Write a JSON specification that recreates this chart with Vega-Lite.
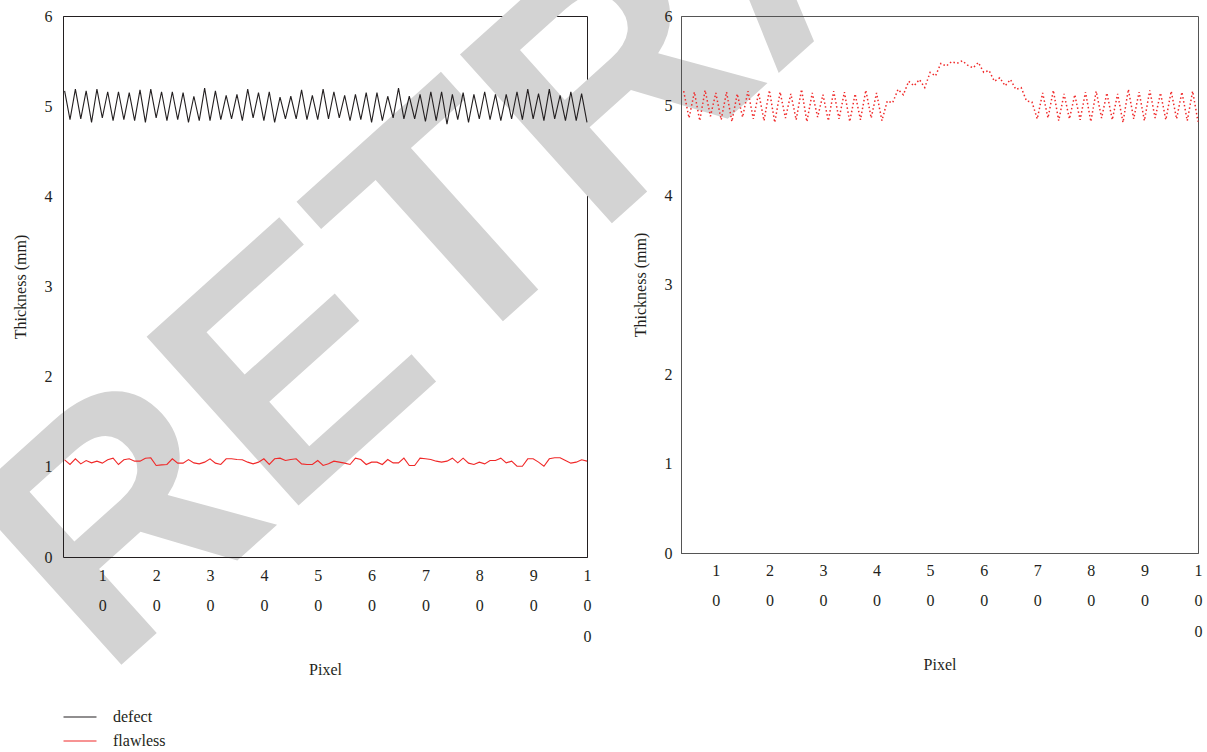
{
  "$schema": "https://vega.github.io/schema/vega-lite/v6.json",
  "autosize": {"type": "none"},
  "bounds": "flush",
  "padding": {"left": 63, "top": 16, "right": 1144, "bottom": 736},
  "spacing": 94,
  "background": "white",
  "config": {
    "font": "Liberation Serif",
    "axis": {
      "labelFont": "Liberation Serif", "titleFont": "Liberation Serif",
      "labelFontSize": 16, "titleFontSize": 16, "titleFontWeight": "normal",
      "labelColor": "#231f20", "titleColor": "#231f20",
      "grid": false, "ticks": false, "zindex": 1
    },
    "legend": {"labelFont": "Liberation Serif", "labelFontSize": 16, "labelColor": "#231f20"}
  },
  "datasets": {
    "left": [
      {"pixel":3,"thickness":5.17,"series":"defect"},{"pixel":4,"thickness":4.85,"series":"defect"},
      {"pixel":5,"thickness":5.19,"series":"defect"},{"pixel":6,"thickness":4.86,"series":"defect"},
      {"pixel":7,"thickness":5.17,"series":"defect"},{"pixel":8,"thickness":4.82,"series":"defect"},
      {"pixel":9,"thickness":5.19,"series":"defect"},{"pixel":10,"thickness":4.87,"series":"defect"},
      {"pixel":11,"thickness":5.16,"series":"defect"},{"pixel":12,"thickness":4.84,"series":"defect"},
      {"pixel":13,"thickness":5.16,"series":"defect"},{"pixel":14,"thickness":4.85,"series":"defect"},
      {"pixel":15,"thickness":5.15,"series":"defect"},{"pixel":16,"thickness":4.84,"series":"defect"},
      {"pixel":17,"thickness":5.18,"series":"defect"},{"pixel":18,"thickness":4.82,"series":"defect"},
      {"pixel":19,"thickness":5.19,"series":"defect"},{"pixel":20,"thickness":4.87,"series":"defect"},
      {"pixel":21,"thickness":5.16,"series":"defect"},{"pixel":22,"thickness":4.84,"series":"defect"},
      {"pixel":23,"thickness":5.16,"series":"defect"},{"pixel":24,"thickness":4.85,"series":"defect"},
      {"pixel":25,"thickness":5.15,"series":"defect"},{"pixel":26,"thickness":4.82,"series":"defect"},
      {"pixel":27,"thickness":5.11,"series":"defect"},{"pixel":28,"thickness":4.84,"series":"defect"},
      {"pixel":29,"thickness":5.20,"series":"defect"},{"pixel":30,"thickness":4.84,"series":"defect"},
      {"pixel":31,"thickness":5.17,"series":"defect"},{"pixel":32,"thickness":4.85,"series":"defect"},
      {"pixel":33,"thickness":5.12,"series":"defect"},{"pixel":34,"thickness":4.86,"series":"defect"},
      {"pixel":35,"thickness":5.13,"series":"defect"},{"pixel":36,"thickness":4.84,"series":"defect"},
      {"pixel":37,"thickness":5.19,"series":"defect"},{"pixel":38,"thickness":4.87,"series":"defect"},
      {"pixel":39,"thickness":5.15,"series":"defect"},{"pixel":40,"thickness":4.84,"series":"defect"},
      {"pixel":41,"thickness":5.16,"series":"defect"},{"pixel":42,"thickness":4.82,"series":"defect"},
      {"pixel":43,"thickness":5.10,"series":"defect"},{"pixel":44,"thickness":4.86,"series":"defect"},
      {"pixel":45,"thickness":5.11,"series":"defect"},{"pixel":46,"thickness":4.86,"series":"defect"},
      {"pixel":47,"thickness":5.18,"series":"defect"},{"pixel":48,"thickness":4.85,"series":"defect"},
      {"pixel":49,"thickness":5.12,"series":"defect"},{"pixel":50,"thickness":4.85,"series":"defect"},
      {"pixel":51,"thickness":5.19,"series":"defect"},{"pixel":52,"thickness":4.86,"series":"defect"},
      {"pixel":53,"thickness":5.16,"series":"defect"},{"pixel":54,"thickness":4.87,"series":"defect"},
      {"pixel":55,"thickness":5.12,"series":"defect"},{"pixel":56,"thickness":4.84,"series":"defect"},
      {"pixel":57,"thickness":5.13,"series":"defect"},{"pixel":58,"thickness":4.85,"series":"defect"},
      {"pixel":59,"thickness":5.15,"series":"defect"},{"pixel":60,"thickness":4.82,"series":"defect"},
      {"pixel":61,"thickness":5.15,"series":"defect"},{"pixel":62,"thickness":4.84,"series":"defect"},
      {"pixel":63,"thickness":5.11,"series":"defect"},{"pixel":64,"thickness":4.87,"series":"defect"},
      {"pixel":65,"thickness":5.20,"series":"defect"},{"pixel":66,"thickness":4.86,"series":"defect"},
      {"pixel":67,"thickness":5.11,"series":"defect"},{"pixel":68,"thickness":4.86,"series":"defect"},
      {"pixel":69,"thickness":5.13,"series":"defect"},{"pixel":70,"thickness":4.83,"series":"defect"},
      {"pixel":71,"thickness":5.16,"series":"defect"},{"pixel":72,"thickness":4.84,"series":"defect"},
      {"pixel":73,"thickness":5.16,"series":"defect"},{"pixel":74,"thickness":4.80,"series":"defect"},
      {"pixel":75,"thickness":5.13,"series":"defect"},{"pixel":76,"thickness":4.85,"series":"defect"},
      {"pixel":77,"thickness":5.15,"series":"defect"},{"pixel":78,"thickness":4.82,"series":"defect"},
      {"pixel":79,"thickness":5.13,"series":"defect"},{"pixel":80,"thickness":4.86,"series":"defect"},
      {"pixel":81,"thickness":5.16,"series":"defect"},{"pixel":82,"thickness":4.85,"series":"defect"},
      {"pixel":83,"thickness":5.13,"series":"defect"},{"pixel":84,"thickness":4.84,"series":"defect"},
      {"pixel":85,"thickness":5.13,"series":"defect"},{"pixel":86,"thickness":4.86,"series":"defect"},
      {"pixel":87,"thickness":5.16,"series":"defect"},{"pixel":88,"thickness":4.85,"series":"defect"},
      {"pixel":89,"thickness":5.19,"series":"defect"},{"pixel":90,"thickness":4.86,"series":"defect"},
      {"pixel":91,"thickness":5.14,"series":"defect"},{"pixel":92,"thickness":4.84,"series":"defect"},
      {"pixel":93,"thickness":5.19,"series":"defect"},{"pixel":94,"thickness":4.86,"series":"defect"},
      {"pixel":95,"thickness":5.12,"series":"defect"},{"pixel":96,"thickness":4.84,"series":"defect"},
      {"pixel":97,"thickness":5.16,"series":"defect"},{"pixel":98,"thickness":4.84,"series":"defect"},
      {"pixel":99,"thickness":5.14,"series":"defect"},{"pixel":100,"thickness":4.82,"series":"defect"},
      {"pixel":3,"thickness":1.078,"series":"flawless"},{"pixel":4,"thickness":1.026,"series":"flawless"},
      {"pixel":5,"thickness":1.089,"series":"flawless"},{"pixel":6,"thickness":1.033,"series":"flawless"},
      {"pixel":7,"thickness":1.070,"series":"flawless"},{"pixel":8,"thickness":1.044,"series":"flawless"},
      {"pixel":9,"thickness":1.063,"series":"flawless"},{"pixel":10,"thickness":1.041,"series":"flawless"},
      {"pixel":11,"thickness":1.078,"series":"flawless"},{"pixel":12,"thickness":1.096,"series":"flawless"},
      {"pixel":13,"thickness":1.026,"series":"flawless"},{"pixel":14,"thickness":1.078,"series":"flawless"},
      {"pixel":15,"thickness":1.089,"series":"flawless"},{"pixel":16,"thickness":1.063,"series":"flawless"},
      {"pixel":17,"thickness":1.063,"series":"flawless"},{"pixel":18,"thickness":1.096,"series":"flawless"},
      {"pixel":19,"thickness":1.100,"series":"flawless"},{"pixel":20,"thickness":1.015,"series":"flawless"},
      {"pixel":21,"thickness":1.022,"series":"flawless"},{"pixel":22,"thickness":1.026,"series":"flawless"},
      {"pixel":23,"thickness":1.089,"series":"flawless"},{"pixel":24,"thickness":1.041,"series":"flawless"},
      {"pixel":25,"thickness":1.041,"series":"flawless"},{"pixel":26,"thickness":1.081,"series":"flawless"},
      {"pixel":27,"thickness":1.044,"series":"flawless"},{"pixel":28,"thickness":1.033,"series":"flawless"},
      {"pixel":29,"thickness":1.052,"series":"flawless"},{"pixel":30,"thickness":1.089,"series":"flawless"},
      {"pixel":31,"thickness":1.041,"series":"flawless"},{"pixel":32,"thickness":1.026,"series":"flawless"},
      {"pixel":33,"thickness":1.089,"series":"flawless"},{"pixel":34,"thickness":1.089,"series":"flawless"},
      {"pixel":35,"thickness":1.081,"series":"flawless"},{"pixel":36,"thickness":1.078,"series":"flawless"},
      {"pixel":37,"thickness":1.052,"series":"flawless"},{"pixel":38,"thickness":1.033,"series":"flawless"},
      {"pixel":39,"thickness":1.052,"series":"flawless"},{"pixel":40,"thickness":1.089,"series":"flawless"},
      {"pixel":41,"thickness":1.026,"series":"flawless"},{"pixel":42,"thickness":1.089,"series":"flawless"},
      {"pixel":43,"thickness":1.096,"series":"flawless"},{"pixel":44,"thickness":1.070,"series":"flawless"},
      {"pixel":45,"thickness":1.081,"series":"flawless"},{"pixel":46,"thickness":1.089,"series":"flawless"},
      {"pixel":47,"thickness":1.033,"series":"flawless"},{"pixel":48,"thickness":1.026,"series":"flawless"},
      {"pixel":49,"thickness":1.026,"series":"flawless"},{"pixel":50,"thickness":1.070,"series":"flawless"},
      {"pixel":51,"thickness":1.015,"series":"flawless"},{"pixel":52,"thickness":1.033,"series":"flawless"},
      {"pixel":53,"thickness":1.063,"series":"flawless"},{"pixel":54,"thickness":1.052,"series":"flawless"},
      {"pixel":55,"thickness":1.041,"series":"flawless"},{"pixel":56,"thickness":1.026,"series":"flawless"},
      {"pixel":57,"thickness":1.096,"series":"flawless"},{"pixel":58,"thickness":1.081,"series":"flawless"},
      {"pixel":59,"thickness":1.026,"series":"flawless"},{"pixel":60,"thickness":1.052,"series":"flawless"},
      {"pixel":61,"thickness":1.052,"series":"flawless"},{"pixel":62,"thickness":1.026,"series":"flawless"},
      {"pixel":63,"thickness":1.081,"series":"flawless"},{"pixel":64,"thickness":1.044,"series":"flawless"},
      {"pixel":65,"thickness":1.044,"series":"flawless"},{"pixel":66,"thickness":1.096,"series":"flawless"},
      {"pixel":67,"thickness":1.015,"series":"flawless"},{"pixel":68,"thickness":1.015,"series":"flawless"},
      {"pixel":69,"thickness":1.096,"series":"flawless"},{"pixel":70,"thickness":1.089,"series":"flawless"},
      {"pixel":71,"thickness":1.081,"series":"flawless"},{"pixel":72,"thickness":1.063,"series":"flawless"},
      {"pixel":73,"thickness":1.052,"series":"flawless"},{"pixel":74,"thickness":1.063,"series":"flawless"},
      {"pixel":75,"thickness":1.096,"series":"flawless"},{"pixel":76,"thickness":1.044,"series":"flawless"},
      {"pixel":77,"thickness":1.096,"series":"flawless"},{"pixel":78,"thickness":1.041,"series":"flawless"},
      {"pixel":79,"thickness":1.026,"series":"flawless"},{"pixel":80,"thickness":1.052,"series":"flawless"},
      {"pixel":81,"thickness":1.033,"series":"flawless"},{"pixel":82,"thickness":1.070,"series":"flawless"},
      {"pixel":83,"thickness":1.070,"series":"flawless"},{"pixel":84,"thickness":1.096,"series":"flawless"},
      {"pixel":85,"thickness":1.044,"series":"flawless"},{"pixel":86,"thickness":1.063,"series":"flawless"},
      {"pixel":87,"thickness":1.007,"series":"flawless"},{"pixel":88,"thickness":1.007,"series":"flawless"},
      {"pixel":89,"thickness":1.089,"series":"flawless"},{"pixel":90,"thickness":1.089,"series":"flawless"},
      {"pixel":91,"thickness":1.052,"series":"flawless"},{"pixel":92,"thickness":1.007,"series":"flawless"},
      {"pixel":93,"thickness":1.089,"series":"flawless"},{"pixel":94,"thickness":1.100,"series":"flawless"},
      {"pixel":95,"thickness":1.100,"series":"flawless"},{"pixel":96,"thickness":1.070,"series":"flawless"},
      {"pixel":97,"thickness":1.041,"series":"flawless"},{"pixel":98,"thickness":1.052,"series":"flawless"},
      {"pixel":99,"thickness":1.078,"series":"flawless"},{"pixel":100,"thickness":1.063,"series":"flawless"}
    ],
    "right": [
      {"pixel":4,"thickness":5.16},{"pixel":5,"thickness":4.86},{"pixel":6,"thickness":5.15},{"pixel":7,"thickness":4.83},
      {"pixel":8,"thickness":5.17},{"pixel":9,"thickness":4.88},{"pixel":10,"thickness":5.14},{"pixel":11,"thickness":4.84},
      {"pixel":12,"thickness":5.15},{"pixel":13,"thickness":4.82},{"pixel":14,"thickness":5.13},{"pixel":15,"thickness":4.87},
      {"pixel":16,"thickness":5.16},{"pixel":17,"thickness":4.85},{"pixel":18,"thickness":5.14},{"pixel":19,"thickness":4.83},
      {"pixel":20,"thickness":5.17},{"pixel":21,"thickness":4.81},{"pixel":22,"thickness":5.15},{"pixel":23,"thickness":4.86},
      {"pixel":24,"thickness":5.13},{"pixel":25,"thickness":4.84},{"pixel":26,"thickness":5.18},{"pixel":27,"thickness":4.82},
      {"pixel":28,"thickness":5.14},{"pixel":29,"thickness":4.87},{"pixel":30,"thickness":5.12},{"pixel":31,"thickness":4.83},
      {"pixel":32,"thickness":5.16},{"pixel":33,"thickness":4.85},{"pixel":34,"thickness":5.15},{"pixel":35,"thickness":4.82},
      {"pixel":36,"thickness":5.13},{"pixel":37,"thickness":4.84},{"pixel":38,"thickness":5.17},{"pixel":39,"thickness":4.86},
      {"pixel":40,"thickness":5.14},{"pixel":41,"thickness":4.83},{"pixel":42,"thickness":5.05},{"pixel":43,"thickness":5.03},
      {"pixel":44,"thickness":5.18},{"pixel":45,"thickness":5.12},{"pixel":46,"thickness":5.27},{"pixel":47,"thickness":5.22},
      {"pixel":48,"thickness":5.29},{"pixel":49,"thickness":5.20},{"pixel":50,"thickness":5.37},{"pixel":51,"thickness":5.33},
      {"pixel":52,"thickness":5.47},{"pixel":53,"thickness":5.44},{"pixel":54,"thickness":5.49},{"pixel":55,"thickness":5.47},
      {"pixel":56,"thickness":5.50},{"pixel":57,"thickness":5.45},{"pixel":58,"thickness":5.42},{"pixel":59,"thickness":5.48},
      {"pixel":60,"thickness":5.37},{"pixel":61,"thickness":5.39},{"pixel":62,"thickness":5.27},{"pixel":63,"thickness":5.31},
      {"pixel":64,"thickness":5.22},{"pixel":65,"thickness":5.29},{"pixel":66,"thickness":5.18},{"pixel":67,"thickness":5.20},
      {"pixel":68,"thickness":5.05},{"pixel":69,"thickness":5.04},{"pixel":70,"thickness":4.85},{"pixel":71,"thickness":5.14},
      {"pixel":72,"thickness":4.86},{"pixel":73,"thickness":5.17},{"pixel":74,"thickness":4.83},{"pixel":75,"thickness":5.13},
      {"pixel":76,"thickness":4.85},{"pixel":77,"thickness":5.12},{"pixel":78,"thickness":4.84},{"pixel":79,"thickness":5.15},
      {"pixel":80,"thickness":4.82},{"pixel":81,"thickness":5.16},{"pixel":82,"thickness":4.86},{"pixel":83,"thickness":5.14},
      {"pixel":84,"thickness":4.84},{"pixel":85,"thickness":5.13},{"pixel":86,"thickness":4.81},{"pixel":87,"thickness":5.18},
      {"pixel":88,"thickness":4.85},{"pixel":89,"thickness":5.15},{"pixel":90,"thickness":4.83},{"pixel":91,"thickness":5.17},
      {"pixel":92,"thickness":4.86},{"pixel":93,"thickness":5.14},{"pixel":94,"thickness":4.84},{"pixel":95,"thickness":5.16},
      {"pixel":96,"thickness":4.85},{"pixel":97,"thickness":5.15},{"pixel":98,"thickness":4.83},{"pixel":99,"thickness":5.16},
      {"pixel":100,"thickness":4.82}
    ],
    "watermark": [{"label": "RETRACTED", "pixel": 10.5, "thickness": -1.36}]
  },
  "hconcat": [
    {
      "width": 524,
      "height": 541,
      "view": {"stroke": "#231f20", "strokeWidth": 1},
      "layer": [
        {
          "data": {"name": "watermark"},
          "mark": {"type": "text", "font": "Liberation Sans", "fontWeight": "bold", "fontSize": 330, "angle": 318, "color": "#d3d3d3", "align": "left", "baseline": "alphabetic"},
          "encoding": {
            "x": {"field": "pixel", "type": "quantitative", "scale": {"domain": [2.7, 100], "nice": false, "zero": false}},
            "y": {"field": "thickness", "type": "quantitative", "scale": {"domain": [0, 6], "nice": false}},
            "text": {"field": "label"}
          }
        },
        {
          "data": {"name": "left"},
          "mark": {"type": "line", "strokeWidth": 1.1},
          "encoding": {
            "x": {"field": "pixel", "type": "quantitative", "scale": {"domain": [2.7, 100], "nice": false, "zero": false},
              "axis": {"values": [10,20,30,40,50,60,70,80,90,100], "labelExpr": "split(datum.label, '')", "labelLineHeight": 30.5, "labelPadding": 10, "labelFlush": false, "labelOverlap": false, "labelBaseline": "top", "title": "Pixel", "titlePadding": 17, "domainColor": "#231f20", "zindex": 2}},
            "y": {"field": "thickness", "type": "quantitative", "scale": {"domain": [0, 6], "nice": false},
              "axis": {"values": [0,1,2,3,4,5,6], "format": ".0f", "title": "Thickness (mm)", "labelPadding": 11, "titlePadding": 16, "domainColor": "#231f20", "zindex": 2}},
            "color": {"field": "series", "type": "nominal",
              "scale": {"domain": ["defect", "flawless"], "range": ["#231f20", "#f02828"]},
              "legend": {"orient": "none", "legendX": 8, "legendY": 692, "direction": "vertical", "title": null, "symbolType": "M-2,0H2", "symbolSize": 272, "symbolStrokeWidth": 1.2, "symbolFillColor": "transparent", "rowPadding": 7, "padding": 0, "labelOffset": 24}}
          }
        }
      ]
    },
    {
      "width": 517,
      "height": 537,
      "view": {"stroke": "#555555", "strokeWidth": 1},
      "data": {"name": "right"},
      "mark": {"type": "line", "color": "#f02828", "strokeWidth": 1.5, "strokeDash": [1.5, 2.5]},
      "encoding": {
        "x": {"field": "pixel", "type": "quantitative", "scale": {"domain": [3.5, 100], "nice": false, "zero": false},
          "axis": {"values": [10,20,30,40,50,60,70,80,90,100], "labelExpr": "split(datum.label, '')", "labelLineHeight": 30.5, "labelPadding": 9, "labelFlush": false, "labelOverlap": false, "labelBaseline": "top", "title": "Pixel", "titlePadding": 17, "domainColor": "#555555"}},
        "y": {"field": "thickness", "type": "quantitative", "scale": {"domain": [0, 6], "nice": false},
          "axis": {"values": [0,1,2,3,4,5,6], "format": ".0f", "title": "Thickness (mm)", "labelPadding": 9, "titlePadding": 16, "domainColor": "#555555"}}
      }
    }
  ]
}
